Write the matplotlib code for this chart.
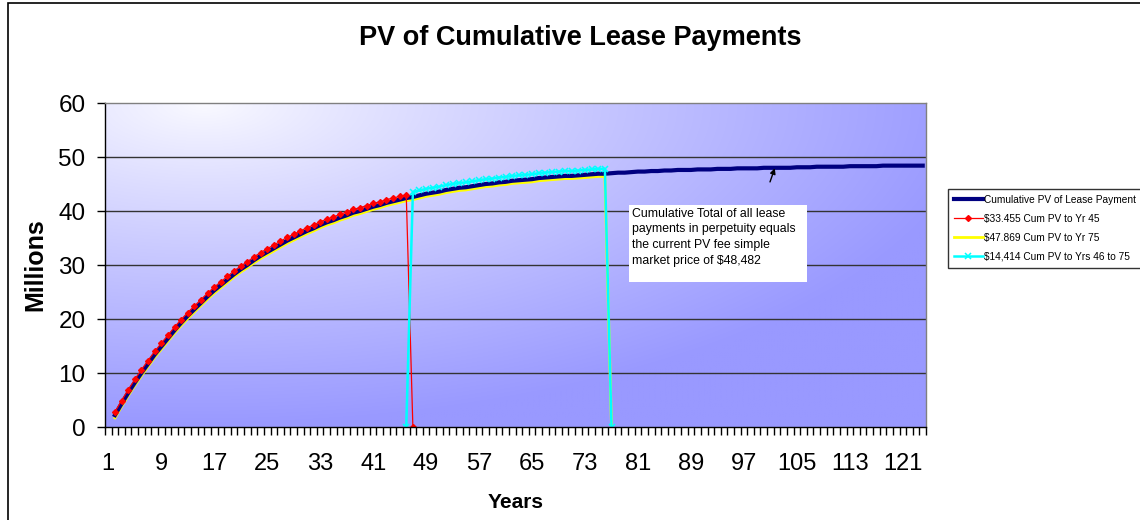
import numpy as np
import matplotlib
matplotlib.use("Agg")
import matplotlib.pyplot as plt
from matplotlib.patches import Rectangle
from matplotlib.ticker import FixedLocator

plt.rcParams['font.family'] = ['Liberation Sans', 'DejaVu Sans']

# ---------------- data ----------------
years = list(range(1, 125))

# Cumulative PV of lease payments, years 2..124 (millions)
cum_years = list(range(2, 125))
cum_pv = [2.2, 4.3, 6.3, 8.2, 10.0, 11.7, 13.4, 14.9, 16.4, 17.9, 19.3, 20.6, 21.8, 23.0, 24.2,
          25.3, 26.3, 27.3, 28.3, 29.2, 30.0, 30.9, 31.7, 32.4, 33.1, 33.8, 34.5, 35.1, 35.7, 36.3,
          36.8, 37.4, 37.9, 38.3, 38.8, 39.2, 39.7, 40.0, 40.4, 40.8, 41.1, 41.5, 41.8, 42.1, 42.4,
          42.6, 42.9, 43.2, 43.4, 43.6, 43.9, 44.1, 44.3, 44.4, 44.6, 44.8, 45.0, 45.1, 45.3, 45.4,
          45.6, 45.7, 45.8, 45.9, 46.1, 46.2, 46.3, 46.4, 46.5, 46.5, 46.6, 46.7, 46.8, 46.9, 46.9,
          47.0, 47.1, 47.1, 47.2, 47.3, 47.3, 47.4, 47.4, 47.5, 47.5, 47.6, 47.6, 47.6, 47.7, 47.7,
          47.7, 47.8, 47.8, 47.8, 47.9, 47.9, 47.9, 47.9, 48.0, 48.0,
          48.0, 48.0, 48.0, 48.1, 48.1, 48.1, 48.2, 48.2, 48.2, 48.2, 48.2, 48.3, 48.3, 48.3, 48.3,
          48.3, 48.4, 48.4, 48.4, 48.4, 48.4, 48.4, 48.4]

# $33.455 Cum PV to Yr 45 (years 2..46, then drop to 0 at 47)
red_years = list(range(2, 48))
red_pv = [2.8, 4.9, 6.9, 8.8, 10.6, 12.3, 14.0, 15.5, 17.0, 18.5, 19.9, 21.2, 22.4, 23.6, 24.8,
          25.9, 26.9, 27.9, 28.9, 29.8, 30.6, 31.5, 32.3, 33.0, 33.7, 34.4, 35.1, 35.7, 36.3, 36.9,
          37.4, 38.0, 38.5, 38.9, 39.4, 39.8, 40.3, 40.6, 41.0, 41.4, 41.7, 42.1, 42.4, 42.7, 43.0,
          0.0]

# $47.869 Cum PV to Yr 75 (years 2..76, then 0 at 77)
yel_years = list(range(2, 78))
yel_pv = [1.7, 3.8, 5.8, 7.7, 9.5, 11.2, 12.9, 14.4, 15.9, 17.4, 18.8, 20.1, 21.3, 22.5, 23.7,
          24.8, 25.8, 26.8, 27.8, 28.7, 29.5, 30.4, 31.2, 31.9, 32.6, 33.3, 34.0, 34.6, 35.2, 35.8,
          36.3, 36.9, 37.4, 37.8, 38.3, 38.7, 39.2, 39.5, 39.9, 40.3, 40.6, 41.0, 41.3, 41.6, 41.9,
          42.1, 42.4, 42.7, 42.9, 43.1, 43.4, 43.6, 43.8, 43.9, 44.1, 44.3, 44.5, 44.6, 44.8, 44.9,
          45.1, 45.2, 45.3, 45.4, 45.6, 45.7, 45.8, 45.9, 46.0, 46.0, 46.1, 46.2, 46.3, 46.4, 46.4,
          0.0]

# $14,414 Cum PV to Yrs 46 to 75 (0 at 46, years 47..76, 0 at 77)
cyan_years = list(range(46, 78))
cyan_pv = [0.0,
           43.5, 43.8, 44.1, 44.3, 44.5, 44.8, 45.0, 45.2, 45.3, 45.5, 45.7, 45.9, 46.0, 46.2, 46.3,
           46.5, 46.6, 46.7, 46.8, 47.0, 47.1, 47.2, 47.3, 47.4, 47.4, 47.5, 47.6, 47.7, 47.8, 47.8,
           0.0]

labels = ["Cumulative PV of Lease Payment", "$33.455 Cum PV to Yr 45",
          "$47.869 Cum PV to Yr 75", "$14,414 Cum PV to Yrs 46 to 75"]
xtick_labels = list(range(1, 125, 8))
yticks = [0, 10, 20, 30, 40, 50, 60]

# ---------------- figure ----------------
W, H = 1140, 520
fig = plt.figure(figsize=(W / 100, H / 100), dpi=100)
fig.patch.set_facecolor('white')
ax = fig.add_axes([105 / W, 1 - 427 / H, 821 / W, 324 / H])

# background gradient
ny, nx = 200, 400
gx, gy = np.meshgrid(np.linspace(0, 1, nx), np.linspace(1, 0, ny))
d = np.sqrt(((gx - 0.12) / 1.0) ** 2 + ((gy - 1.0) / 1.05) ** 2)
t = np.clip(d / 0.95, 0, 1) ** 0.9
c0 = np.array([250, 250, 255]) / 255
c1 = np.array([153, 153, 255]) / 255
img = c0[None, None, :] * (1 - t[..., None]) + c1[None, None, :] * t[..., None]
ax.imshow(img, extent=(0, 1, 0, 1), transform=ax.transAxes, aspect='auto',
          zorder=0, interpolation='bilinear')

ax.set_xlim(0.5, len(years) + 0.5)
ax.set_ylim(0, 60)

# gridlines
for yv in yticks[1:-1]:
    ax.axhline(yv, color='#333333', lw=1.0, zorder=1)

# series
ax.plot(cum_years, cum_pv, color='#000080', lw=3.0, zorder=3, label=labels[0])
ax.plot(red_years, red_pv, color='#FF0000', lw=0.9, marker='D', ms=3.0,
        mfc='#FF0000', mec='#FF0000', zorder=4, label=labels[1])
ax.plot(yel_years, yel_pv, color='#FFFF00', lw=2.0, zorder=2.5, label=labels[2])
ax.plot(cyan_years, cyan_pv, color='#00FFFF', lw=1.8, marker='x', ms=5.0, mew=1.1,
        zorder=5, label=labels[3])

# spines
ax.spines['left'].set_color('black')
ax.spines['bottom'].set_color('black')
ax.spines['top'].set_color('#808080')
ax.spines['right'].set_color('#808080')
for s in ax.spines.values():
    s.set_linewidth(1.0)
    s.set_zorder(6)

# ticks
ax.set_yticks(yticks)
ax.tick_params(axis='y', direction='out', length=6, width=1, labelsize=17.5, pad=8)
ax.set_xticks(xtick_labels)
ax.set_xticklabels([str(v) for v in xtick_labels])
ax.xaxis.set_minor_locator(FixedLocator(np.arange(0.5, len(years) + 1, 1)))
ax.tick_params(axis='x', which='major', length=0, labelsize=17, pad=19)
ax.tick_params(axis='x', which='minor', direction='out', length=6, width=1)

ax.set_title("PV of Cumulative Lease Payments", fontsize=19.5, fontweight='bold', pad=0,
             x=(580 - 105) / 821, y=(427 - 38) / 324, va='center')
ax.set_ylabel("Millions", fontsize=18, fontweight='bold', labelpad=8)
ax.set_xlabel("Years", fontsize=15, fontweight='bold', labelpad=13)

# annotation box
ax.add_patch(Rectangle((0.638, 0.4475), 0.2168, 0.2377, transform=ax.transAxes,
                       facecolor='white', edgecolor='none', zorder=6))
ax.text(0.6425, 0.677, "Cumulative Total of all lease\npayments in perpetuity equals\n"
        "the current PV fee simple\nmarket price of $48,482",
        transform=ax.transAxes, fontsize=8.8, va='top', ha='left', linespacing=1.42, zorder=7)
ax.annotate('', xy=(101.8, 48.4), xytext=(100.8, 44.9),
            arrowprops=dict(arrowstyle='-|>', color='black', lw=1.0, mutation_scale=8),
            zorder=7)

# legend
leg = fig.legend(loc='upper left', bbox_to_anchor=(948 / W, 1 - 189 / H),
                 fontsize=7.3, frameon=True, fancybox=False, edgecolor='black',
                 handlelength=2.9, labelspacing=0.9, borderpad=0.55, handletextpad=0.1,
                 borderaxespad=0)
leg.get_frame().set_linewidth(1.0)

# outer chart border
fig.patches.append(Rectangle((8 / W, -0.05), 1.2, 1 - 3 / H + 0.05, transform=fig.transFigure,
                             fill=False, edgecolor='black', lw=1.2))

fig.savefig('out.png', dpi=100)
